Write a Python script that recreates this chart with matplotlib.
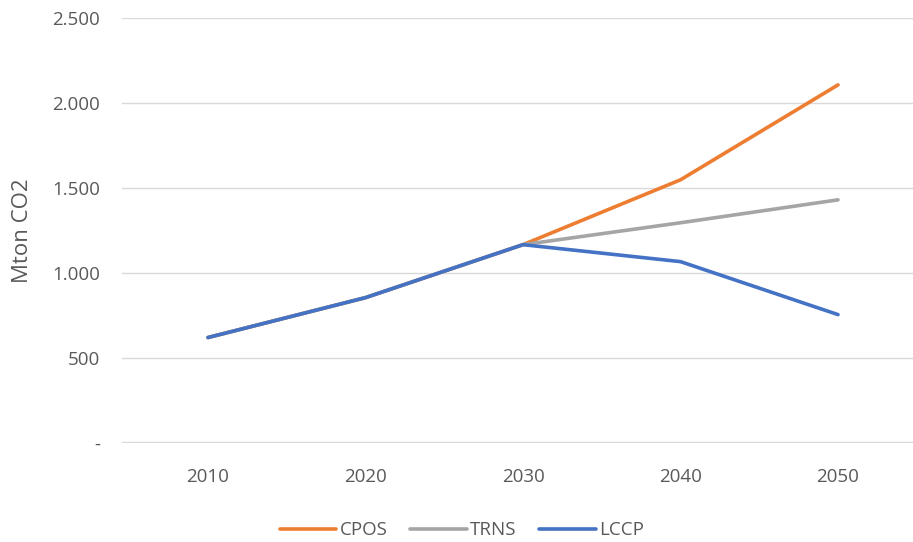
import matplotlib.pyplot as plt
from matplotlib.ticker import FuncFormatter

years = ["2010", "2020", "2030", "2040", "2050"]
cpos = [618, 853, 1165, 1547, 2106]
trns = [618, 853, 1165, 1294, 1429]
lccp = [618, 853, 1165, 1065, 753]

plt.rcParams['font.family'] = ['Open Sans', 'DejaVu Sans']

fig = plt.figure(figsize=(9.13, 5.42), dpi=100)
ax = fig.add_axes([0.1336, 0.1827, 0.8664, 0.7841])

x = range(len(years))
ax.plot(x, cpos, color='#ED7D31', lw=2.6, label='CPOS', solid_capstyle='round')
ax.plot(x, trns, color='#A5A5A5', lw=2.6, label='TRNS', solid_capstyle='round')
ax.plot(x, lccp, color='#4472C4', lw=2.6, label='LCCP', solid_capstyle='round')

ax.set_xlim(-0.546, 4.476)
ax.set_ylim(-3, 2500)
ax.set_yticks([0, 500, 1000, 1500, 2000, 2500])
ax.yaxis.set_major_formatter(FuncFormatter(
    lambda v, p: '-' if v == 0 else f'{int(v):,}'.replace(',', '.')))
ax.set_xticks(list(x))
ax.set_xticklabels(years)
ax.grid(axis='y', color='#D9D9D9', lw=1)
ax.set_axisbelow(True)
for s in ax.spines.values():
    s.set_visible(False)
ax.tick_params(length=0, colors='#595959', labelsize=13.5)
ax.tick_params(axis='x', pad=18)
ax.tick_params(axis='y', pad=16)
ax.set_ylabel('Mton CO2', color='#595959', fontsize=16)
ax.yaxis.set_label_coords(-0.1125, 0.5)

leg = ax.legend(loc='center', bbox_to_anchor=(0.43, -0.205), ncol=3, frameon=False,
                fontsize=13.5, handlelength=3.0, columnspacing=1.2, handletextpad=0.2,
                borderpad=0.1)
for t in leg.get_texts():
    t.set_color('#595959')

fig.savefig('out.png', dpi=100)
